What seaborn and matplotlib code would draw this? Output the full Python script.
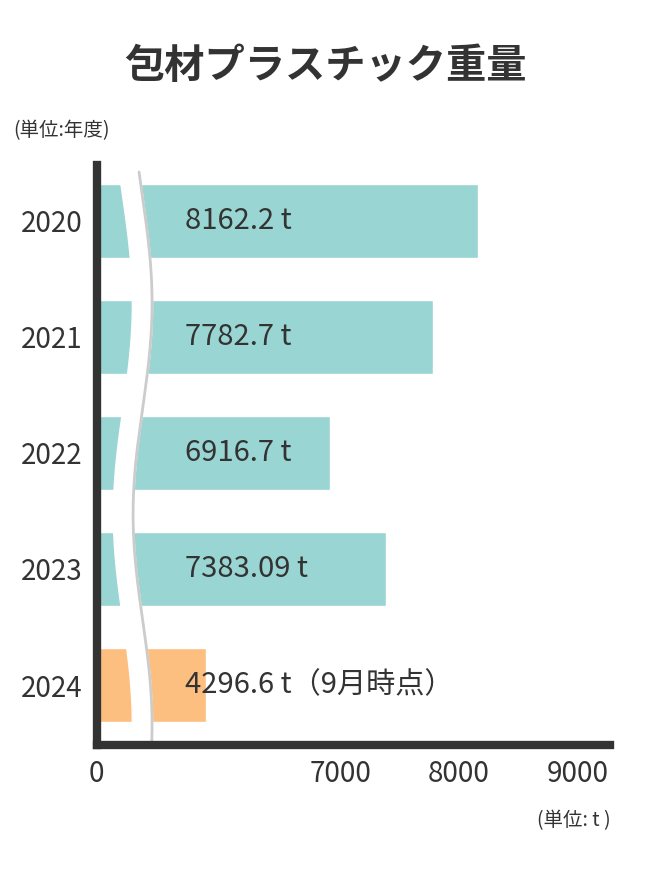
import numpy as np
import pandas as pd
import seaborn as sns
import matplotlib.pyplot as plt

years = ["2020", "2021", "2022", "2023", "2024"]
weights = [8162.2, 7782.7, 6916.7, 7383.09, 4296.6]
labels = ["8162.2 t", "7782.7 t", "6916.7 t", "7383.09 t", "4296.6 t（9月時点）"]
bar_colors = ["#99d5d2", "#99d5d2", "#99d5d2", "#99d5d2", "#fdbf7f"]
tick_values = [0, 7000, 8000, 9000]

# broken axis: values above 5000 shifted left, the 2024 bar is drawn not to scale
BREAK = 4950
def to_axis(v):
    return v - BREAK if v > BREAK else v * 0.2135

sns.set_theme(style="white")
plt.rcParams['font.family'] = ['Noto Sans CJK JP', 'DejaVu Sans']

df = pd.DataFrame({"year": years, "x": [to_axis(v) for v in weights]})

fig = plt.figure(figsize=(6.5, 8.8), dpi=100)
ax = fig.add_axes([0.149, 0.153, 0.789, 0.6595])
sns.barplot(data=df, x="x", y="year", hue="year", palette=bar_colors,
            orient="h", width=0.64, legend=False, ax=ax, saturation=1)

for i, lab in enumerate(labels):
    ax.text(740, i, lab, va="center", ha="left", fontsize=21, color="#333333")

# wavy break marker
yy = np.linspace(-0.42, 4.6, 400)
xx = 300 + 80 * np.sin((yy + 0.2) * np.pi * 0.55)
ax.fill_betweenx(yy, xx - 85, xx + 85, color="white", zorder=3)
ax.plot(xx + 85, yy, color="#cccccc", lw=2, zorder=4)

ax.set_xlim(0, 4318)
ax.set_ylim(4.52, -0.48)
ax.set_xticks([to_axis(v) if v > BREAK else 0 for v in tick_values])
ax.set_xticklabels([str(v) for v in tick_values])
ax.set_xlabel("")
ax.set_ylabel("")
ax.tick_params(axis="both", labelsize=20, colors="#333333", length=0, pad=10)
for s in ["top", "right"]:
    ax.spines[s].set_visible(False)
for s in ["left", "bottom"]:
    ax.spines[s].set_linewidth(6)
    ax.spines[s].set_color("#333333")
    ax.spines[s].set_zorder(5)

fig.text(0.5, 0.925, "包材プラスチック重量", ha="center", va="center",
         fontsize=29, fontweight="bold", color="#333333")
fig.text(0.02, 0.852, "(単位:年度)", ha="left", va="center", fontsize=14, color="#333333")
fig.text(0.94, 0.068, "(単位: t )", ha="right", va="center", fontsize=14, color="#333333")

fig.savefig("out.png", dpi=100)
